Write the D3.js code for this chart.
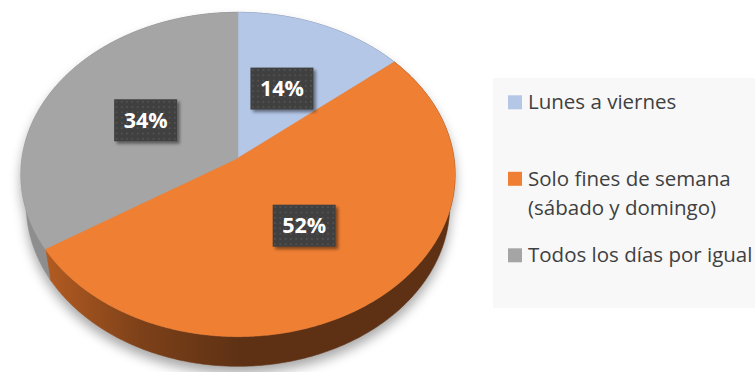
<!DOCTYPE html>
<html>
<head>
<meta charset="utf-8">
<script src="https://cdn.jsdelivr.net/npm/d3@7"></script>
<style>
  html, body { margin: 0; padding: 0; background: #fff; }
  svg { display: block; }
</style>
</head>
<body>
<svg id="chart" width="755" height="372"></svg>
<script>
// Share of respondents by the days they do the activity
const categories = ["Lunes a viernes", "Solo fines de semana (sábado y domingo)", "Todos los días por igual"];
const legendLines = [["Lunes a viernes"], ["Solo fines de semana", "(sábado y domingo)"], ["Todos los días por igual"]];
const values = [14, 52, 34];
const valueLabels = ["14%", "52%", "34%"];

// Top-face colours and side-wall shading (light -> dark, left to right)
const topColors = ["#b4c7e7", "#ef7f33", "#a5a5a5"];
const wallStops = [
  ["#8193b3", "#6f809e", "#5f6e88"],
  ["#b65d22", "#7d4119", "#5e3114"],
  ["#8e8e8e", "#7e7e7e", "#6a6a6a"]
];

const svg = d3.select("#chart");
const defs = svg.append("defs");

// Simple perspective camera looking down on a flat disc
const cam = { cx: 238, cy: 158, F: 1421, D: 6.58, tilt: 48 * Math.PI / 180, depth: 0.22 };
const sinT = Math.sin(cam.tilt), cosT = Math.cos(cam.tilt);
function project(theta, r, drop) {
  const X = r * Math.sin(theta), Z = -r * Math.cos(theta);
  const yc = Z * sinT + drop * cosT;
  const zc = cam.D - Z * cosT + drop * sinT;
  return [cam.cx + cam.F * X / zc, cam.cy + cam.F * yc / zc];
}
function rim(a, b, drop) {
  const n = Math.max(2, Math.ceil(Math.abs(b - a) / 0.01));
  return d3.range(n + 1).map(i => project(a + (b - a) * i / n, 1, drop));
}

const pie = d3.pie().sort(null).value(d => d);
const arcs = pie(values);
const line = d3.line();

// Soft shadow under the disc
const shadowBlur = defs.append("filter").attr("id", "discShadow")
  .attr("x", "-20%").attr("y", "-20%").attr("width", "140%").attr("height", "140%");
shadowBlur.append("feGaussianBlur").attr("stdDeviation", 6);

const shadow = svg.append("g")
  .attr("filter", "url(#discShadow)")
  .attr("opacity", 0.34)
  .attr("transform", "translate(0,7)");
shadow.append("path").attr("d", line(rim(0, 2 * Math.PI, 0)) + "Z").attr("fill", "#000");
shadow.append("path").attr("d", line(rim(0, 2 * Math.PI, cam.depth)) + "Z").attr("fill", "#000");
shadow.append("path")
  .attr("d", line(rim(Math.PI / 2, 3 * Math.PI / 2, 0).concat(rim(3 * Math.PI / 2, Math.PI / 2, cam.depth))) + "Z")
  .attr("fill", "#000");

// Horizontal shading for each wall
arcs.forEach((d, i) => {
  const g = defs.append("linearGradient").attr("id", "wall" + i)
    .attr("gradientUnits", "userSpaceOnUse")
    .attr("x1", 40).attr("y1", 0).attr("x2", 240).attr("y2", 0);
  wallStops[i].forEach((c, k, arr) => {
    g.append("stop").attr("offset", k / (arr.length - 1)).attr("stop-color", c);
  });
});

// Side walls
svg.append("g").selectAll("path.wall").data(arcs).join("path")
  .attr("class", "wall")
  .attr("d", d => line(rim(d.startAngle, d.endAngle, 0).concat(rim(d.endAngle, d.startAngle, cam.depth))) + "Z")
  .attr("fill", (d, i) => `url(#wall${i})`)
  .attr("stroke", (d, i) => `url(#wall${i})`)
  .attr("stroke-width", 0.6);

// Top faces
svg.append("g").selectAll("path.top").data(arcs).join("path")
  .attr("class", "top")
  .attr("d", d => line([project(0, 0, 0)].concat(rim(d.startAngle, d.endAngle, 0))) + "Z")
  .attr("fill", (d, i) => topColors[i])
  .attr("stroke", (d, i) => topColors[i])
  .attr("stroke-width", 0.5);

// Data labels: dark dotted boxes
const dots = defs.append("pattern").attr("id", "dots")
  .attr("patternUnits", "userSpaceOnUse").attr("width", 5.3).attr("height", 5.3);
dots.append("rect").attr("width", 5.3).attr("height", 5.3).attr("fill", "#404040");
dots.append("circle").attr("cx", 2.6).attr("cy", 2.6).attr("r", 0.9).attr("fill", "#575757");

const boxShadow = defs.append("filter").attr("id", "boxShadow")
  .attr("x", "-20%").attr("y", "-20%").attr("width", "150%").attr("height", "150%");
boxShadow.append("feDropShadow").attr("dx", 2.5).attr("dy", 2.5).attr("stdDeviation", 1.6)
  .attr("flood-color", "#000").attr("flood-opacity", 0.45);

const boxW = 63, boxH = 42, labelR = 0.5;
const labelG = svg.append("g").selectAll("g.label").data(arcs).join("g")
  .attr("class", "label")
  .attr("transform", d => {
    const p = project((d.startAngle + d.endAngle) / 2, labelR, 0);
    return `translate(${p[0]},${p[1]})`;
  });
labelG.append("rect")
  .attr("x", -boxW / 2).attr("y", -boxH / 2).attr("width", boxW).attr("height", boxH)
  .attr("fill", "url(#dots)")
  .attr("filter", "url(#boxShadow)");
labelG.append("text")
  .attr("text-anchor", "middle")
  .attr("dy", "0.36em")
  .attr("fill", "#fff")
  .attr("font-family", "'Open Sans', Lato, sans-serif")
  .attr("font-weight", 700)
  .attr("font-size", 21.5)
  .text((d, i) => valueLabels[i]);

// Legend
const legend = svg.append("g");
legend.append("rect").attr("x", 493).attr("y", 78).attr("width", 270).attr("height", 230).attr("fill", "#f8f8f8");

const legendY = d3.scalePoint().domain(categories).range([109.3, 262.3]);
const items = legend.selectAll("g.item").data(categories).join("g")
  .attr("class", "item")
  .attr("transform", d => `translate(0,${legendY(d)})`);
items.append("rect")
  .attr("x", 508).attr("y", -14).attr("width", 14).attr("height", 14)
  .attr("fill", (d, i) => topColors[i]);
items.append("text")
  .attr("x", 528)
  .attr("fill", "#404040")
  .attr("font-family", "'Open Sans', Lato, sans-serif")
  .attr("font-size", 20.5)
  .selectAll("tspan").data((d, i) => legendLines[i]).join("tspan")
  .attr("x", 528)
  .attr("dy", (t, k) => k === 0 ? 0 : 29.5)
  .text(t => t);
</script>
</body>
</html>
